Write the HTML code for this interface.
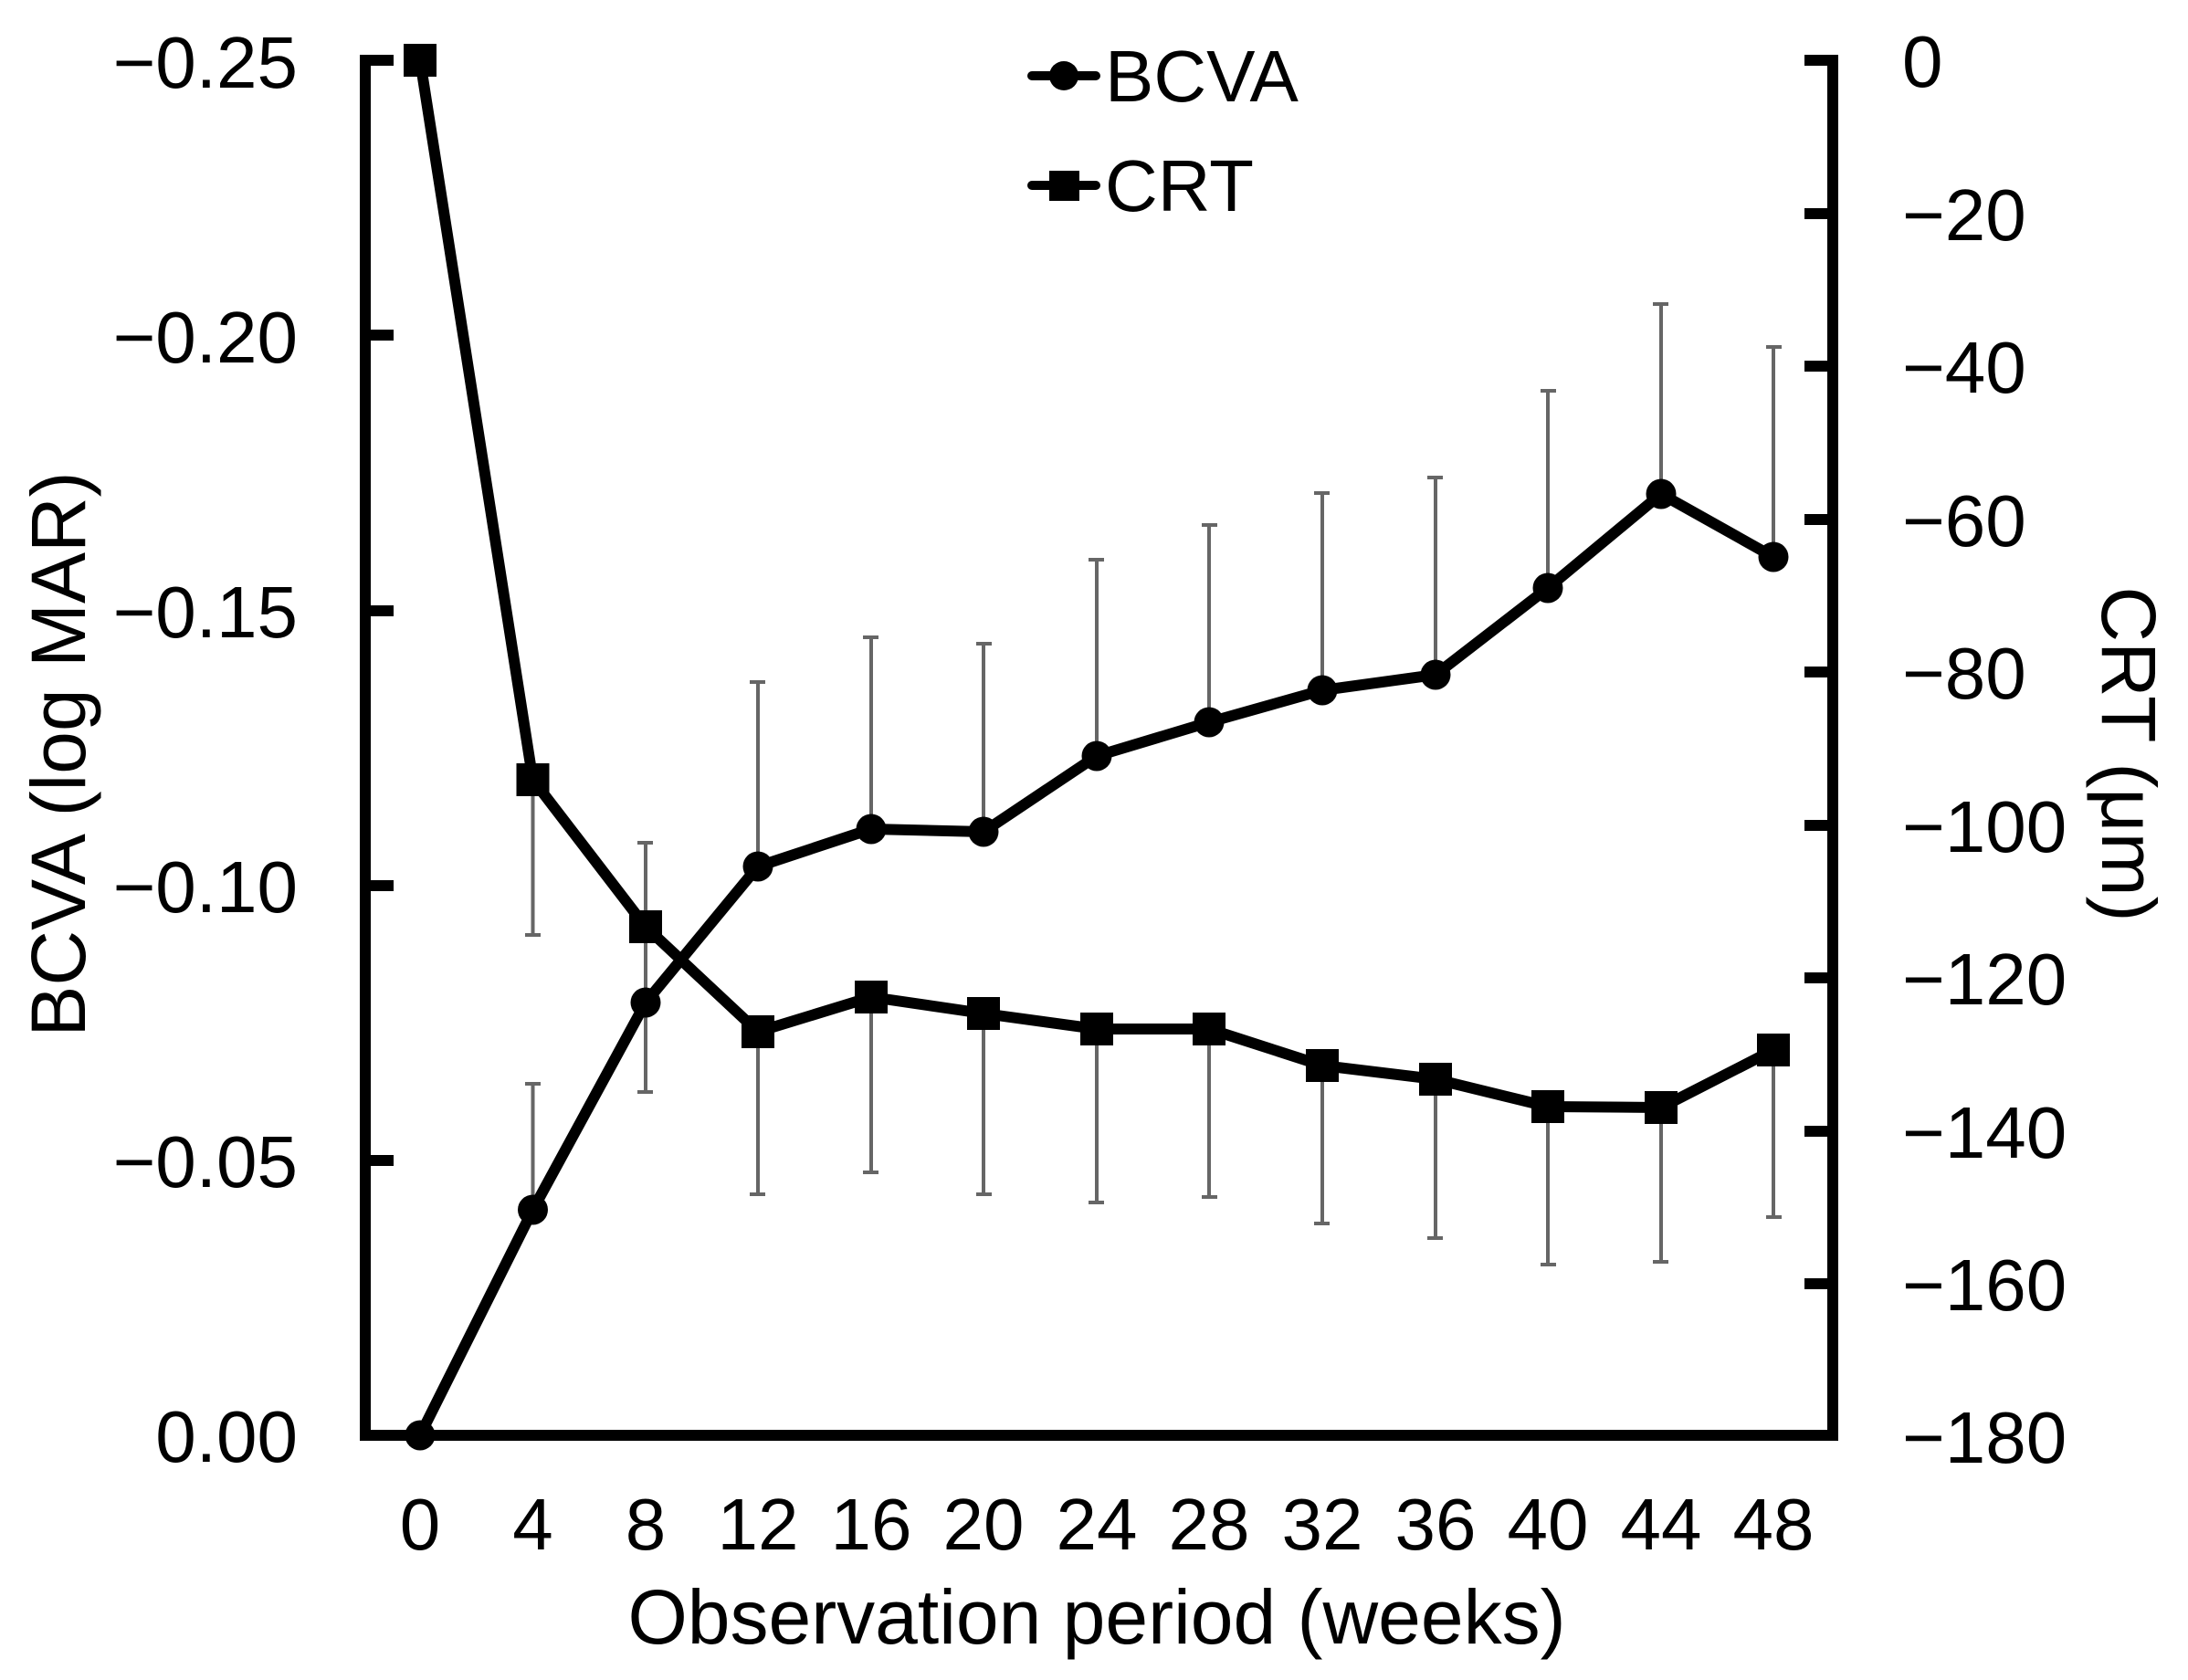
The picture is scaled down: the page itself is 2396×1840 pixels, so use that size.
<!DOCTYPE html>
<html><head><meta charset="utf-8"><style>html,body{margin:0;padding:0;background:#fff}svg{display:block}</style></head>
<body>
<svg width="2396" height="1840" viewBox="0 0 2396 1840" xmlns="http://www.w3.org/2000/svg" font-family="Liberation Sans, Arial, sans-serif">
<rect width="2396" height="1840" fill="#fff"/>
<g stroke="#666" stroke-width="4" fill="none">
<path d="M583.5 1325V1187M575 1187h17M583.5 854V1024M575 1024h17
M707 1098V923M698 923h17M707 1015V1196M698 1196h17
M830 949V747M821 747h17M830 1130V1308M821 1308h17
M954 908V698M945 698h17M954 1092V1284M945 1284h17
M1077 911V705M1069 705h17M1077 1110V1308M1069 1308h17
M1201 828V613M1192 613h17M1201 1127V1317M1192 1317h17
M1324 791V575M1316 575h17M1324 1127V1311M1316 1311h17
M1448 756V540M1439 540h17M1448 1167V1340M1439 1340h17
M1572 739V523M1563 523h17M1572 1182V1356M1563 1356h17
M1695 644V428M1687 428h17M1695 1212V1385M1687 1385h17
M1819 541V333M1810 333h17M1819 1213V1382M1810 1382h17
M1942 610V380M1934 380h17M1942 1150V1333M1934 1333h17"/>
</g>
<g stroke="#000" stroke-width="12" fill="none" stroke-linecap="square">
<path d="M400 66V1572H2007V66"/>
<path d="M400 66h25M400 367h25M400 669h25M400 970h25M400 1271h25"/>
<path d="M2007 66h-25M2007 234h-25M2007 401h-25M2007 569h-25M2007 736h-25M2007 904h-25M2007 1071h-25M2007 1239h-25M2007 1406h-25"/>
</g>
<g stroke="#000" stroke-width="12" fill="none" stroke-linejoin="round">
<polyline points="460,1572 583.5,1325 707,1098 830,949 954,908 1077,911 1201,828 1324,791 1448,756 1572,739 1695,644 1819,541 1942,610"/>
<polyline points="460,66 583.5,854 707,1015 830,1130 954,1092 1077,1110 1201,1127 1324,1127 1448,1167 1572,1182 1695,1212 1819,1213 1942,1150"/>
</g>
<g fill="#000">
<circle cx="460" cy="1572" r="16.5"/><circle cx="583.5" cy="1325" r="16.5"/><circle cx="707" cy="1098" r="16.5"/><circle cx="830" cy="949" r="16.5"/><circle cx="954" cy="908" r="16.5"/><circle cx="1077" cy="911" r="16.5"/><circle cx="1201" cy="828" r="16.5"/><circle cx="1324" cy="791" r="16.5"/><circle cx="1448" cy="756" r="16.5"/><circle cx="1572" cy="739" r="16.5"/><circle cx="1695" cy="644" r="16.5"/><circle cx="1819" cy="541" r="16.5"/><circle cx="1942" cy="610" r="16.5"/>
<g transform="translate(-18,-18)">
<rect x="460" y="66" width="36" height="36"/><rect x="583.5" y="854" width="36" height="36"/><rect x="707" y="1015" width="36" height="36"/><rect x="830" y="1130" width="36" height="36"/><rect x="954" y="1092" width="36" height="36"/><rect x="1077" y="1110" width="36" height="36"/><rect x="1201" y="1127" width="36" height="36"/><rect x="1324" y="1127" width="36" height="36"/><rect x="1448" y="1167" width="36" height="36"/><rect x="1572" y="1182" width="36" height="36"/><rect x="1695" y="1212" width="36" height="36"/><rect x="1819" y="1213" width="36" height="36"/><rect x="1942" y="1150" width="36" height="36"/>
</g>
</g>
<g stroke="#000" stroke-width="10" stroke-linecap="round"><path d="M1130 83H1200M1130 203H1200"/></g>
<circle cx="1165" cy="83" r="16" fill="#000"/>
<rect x="1149" y="187" width="33" height="33" fill="#000"/>
<g font-size="80" fill="#000">
<text x="1210" y="111">BCVA</text>
<text x="1210" y="231">CRT</text>
</g>
<g font-size="80" fill="#000" text-anchor="end">
<text x="326" y="96">−0.25</text><text x="326" y="397">−0.20</text><text x="326" y="698">−0.15</text><text x="326" y="999">−0.10</text><text x="326" y="1300">−0.05</text><text x="326" y="1601">0.00</text>
</g>
<g font-size="80" fill="#000">
<text x="2083" y="95">0</text><text x="2083" y="263">−20</text><text x="2083" y="430">−40</text><text x="2083" y="598">−60</text><text x="2083" y="765">−80</text><text x="2083" y="933">−100</text><text x="2083" y="1100">−120</text><text x="2083" y="1268">−140</text><text x="2083" y="1435">−160</text><text x="2083" y="1602">−180</text>
</g>
<g font-size="80" fill="#000" text-anchor="middle">
<text x="460" y="1697">0</text><text x="583.5" y="1697">4</text><text x="707" y="1697">8</text><text x="830" y="1697">12</text><text x="954" y="1697">16</text><text x="1077" y="1697">20</text><text x="1201" y="1697">24</text><text x="1324" y="1697">28</text><text x="1448" y="1697">32</text><text x="1572" y="1697">36</text><text x="1695" y="1697">40</text><text x="1819" y="1697">44</text><text x="1942" y="1697">48</text>
<text x="1201" y="1800" font-size="84">Observation period (weeks)</text>
<text transform="translate(93,826) rotate(-90)" font-size="84">BCVA (log MAR)</text>
<text transform="translate(2302,826) rotate(90)" font-size="84">CRT (μm)</text>
</g>
</svg>
</body></html>
